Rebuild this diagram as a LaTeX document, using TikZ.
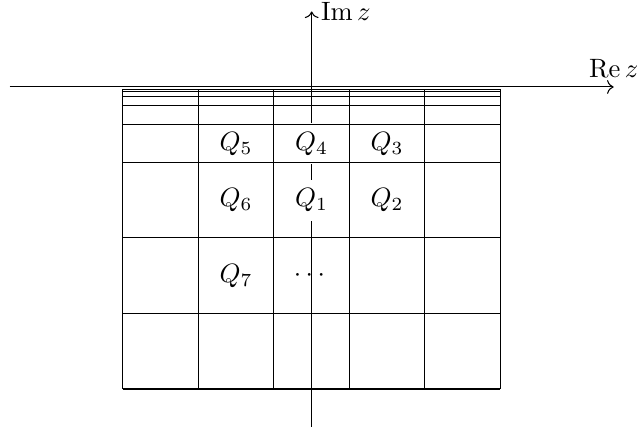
\documentclass[tikz,border=0pt]{standalone}
\usepackage{amsmath, amssymb}
\usepackage{tikz}
\usetikzlibrary{arrows.meta, positioning, calc}

\begin{document}
\begin{tikzpicture}[
    cell/.style={fill=white}
  ]
  \useasboundingbox (-4.128,-4.53) rectangle (4.309,1.152);
  % --- axes ---
  \coordinate (xl) at (-4,0);
  \coordinate (xr) at (4,0);
  \coordinate (yb) at (0,-4.5);
  \coordinate (yt) at (0,1);
  \draw[->] (xl) -- (xr) node[above] (re) {$\operatorname{Re} z$};
  \draw[->] (yb) -- (yt) node[right] (im) {$\operatorname{Im} z$};
  % --- labels ---
  \node[cell] (q5) at (-1,-0.75) {$Q_5$};
  \node[cell] (q4) at (0,-0.75)  {$Q_4$};
  \node[cell] (q3) at (1,-0.75)  {$Q_3$};
  \node[cell] (q6) at (-1,-1.5)  {$Q_6$};
  \node[cell] (q1) at (0,-1.5)   {$Q_1$};
  \node[cell] (q2) at (1,-1.5)   {$Q_2$};
  \node[cell] (q7) at (-1,-2.5)  {$Q_7$};
  \node (dots) at (0,-2.5) {$\cdots$};
  % --- squares of side 1 below -1 ---
  \foreach \y in {-1,-2,-3,-4}
    \draw (-2.5,\y) -- (2.5,\y);
  % --- dyadic layers towards the real axis ---
  \foreach \k in {1,...,5}
    \draw (-2.5,{-1/2^\k}) -- (2.5,{-1/2^\k});
  \foreach \x in {-2.5,-1.5,...,2.5}
    \draw (\x,-1/32) -- (\x,-4);
\end{tikzpicture}
\end{document}
